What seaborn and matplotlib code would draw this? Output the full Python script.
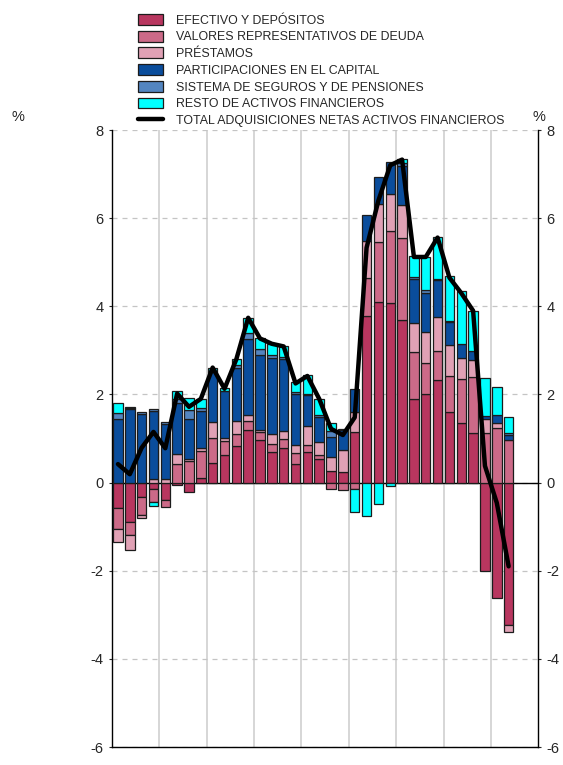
import numpy as np
import seaborn as sns
from matplotlib import pyplot as plt
from matplotlib.patches import Patch
from matplotlib.lines import Line2D

# quarterly data, 2015Q1 .. 2023Q2 (% )
years = ["2015", "2016", "2017", "2018", "2019", "2020", "2021", "2022", "2023"]

efectivo = [-0.57, -0.89, -0.32, -0.15, -0.39, -0.06, -0.21, 0.11,
            0.45, 0.62, 0.83, 1.19, 0.97, 0.70, 0.79, 0.42,
            0.70, 0.53, 0.26, 0.24, 1.15, 3.78, 4.10, 4.08,
            3.70, 1.90, 2.00, 2.33, 1.60, 1.36, 1.13, -2.00,
            -2.62, -3.23]
valores = [-0.49, -0.30, -0.42, -0.29, -0.17, 0.43, 0.49, 0.60,
           0.57, 0.33, 0.28, 0.20, 0.18, 0.17, 0.20, 0.25,
           0.16, 0.09, -0.14, -0.17, -0.14, 0.87, 1.35, 1.63,
           1.84, 1.07, 0.72, 0.66, 0.83, 1.00, 1.26, 1.13,
           1.25, 0.97]
prestamos = [-0.28, -0.33, -0.06, 0.09, 0.09, 0.21, 0.05, 0.08,
             0.36, 0.07, 0.29, 0.15, 0.05, 0.23, 0.17, 0.19,
             0.42, 0.30, 0.33, 0.51, 0.45, 0.83, 0.87, 0.85,
             0.75, 0.66, 0.70, 0.76, 0.70, 0.46, 0.40, 0.32,
             0.10, -0.17]
participaciones = [1.45, 1.66, 1.56, 1.53, 1.23, 1.17, 0.91, 0.83,
                   1.12, 1.07, 1.21, 1.72, 1.69, 1.72, 1.64, 1.15,
                   0.71, 0.57, 0.45, 0.45, 0.53, 0.60, 0.61, 0.71,
                   0.89, 0.98, 0.88, 0.85, 0.52, 0.32, 0.19, 0.06,
                   0.18, 0.10]
seguros = [0.14, 0.04, 0.05, 0.05, 0.06, 0.08, 0.20, 0.08,
           0.00, 0.00, 0.05, 0.14, 0.14, 0.08, 0.05, 0.04,
           0.02, 0.05, 0.13, 0.02, 0.00, 0.00, 0.00, 0.00,
           0.08, 0.05, 0.08, 0.03, 0.02, 0.00, 0.00, 0.00,
           0.00, 0.05]
resto = [0.21, 0.02, 0.00, -0.08, 0.00, 0.19, 0.28, 0.20,
         0.11, 0.05, 0.14, 0.34, 0.24, 0.25, 0.24, 0.23,
         0.43, 0.36, 0.19, 0.00, -0.52, -0.76, -0.48, -0.08,
         0.09, 0.48, 0.74, 0.95, 1.02, 1.21, 0.91, 0.87,
         0.63, 0.38]
total = [0.42, 0.19, 0.79, 1.15, 0.78, 2.02, 1.72, 1.90,
         2.61, 2.13, 2.80, 3.74, 3.27, 3.15, 3.09, 2.25,
         2.42, 1.90, 1.22, 1.08, 1.48, 5.33, 6.40, 7.20,
         7.33, 5.12, 5.12, 5.56, 4.65, 4.30, 3.90, 0.38,
         -0.46, -1.90]

names = ["EFECTIVO Y DEPÓSITOS", "VALORES REPRESENTATIVOS DE DEUDA", "PRÉSTAMOS",
         "PARTICIPACIONES EN EL CAPITAL", "SISTEMA DE SEGUROS Y DE PENSIONES",
         "RESTO DE ACTIVOS FINANCIEROS"]
colors = ["#b8365f", "#cc6a88", "#e0a1b5", "#0a4d9c", "#5385c0", "#00ffff"]
line_name = "TOTAL ADQUISICIONES NETAS ACTIVOS FINANCIEROS"

sns.set_style("white")
plt.rcParams['font.family'] = ['Liberation Sans', 'DejaVu Sans']
plt.rcParams['axes.unicode_minus'] = False

fig = plt.figure(figsize=(5.63, 7.65), dpi=100)
ax = fig.add_axes([0.199, 0.0235, 0.757, 0.8065])

q = np.arange(len(total))
pos_base = np.zeros(len(q))
neg_base = np.zeros(len(q))
edge = "#1c1c1c"
for vals, col in zip([efectivo, valores, prestamos, participaciones, seguros, resto], colors):
    v = np.array(vals, dtype=float)
    bottom = np.where(v >= 0, pos_base, neg_base)
    n0 = len(ax.patches)
    sns.barplot(x=q, y=v, bottom=bottom, color=col, saturation=1, width=0.8,
                errorbar=None, edgecolor=edge, linewidth=0.9, ax=ax, zorder=3)
    for p in ax.patches[n0:]:
        if p.get_height() == 0:
            p.set_visible(False)
    pos_base += np.clip(v, 0, None)
    neg_base += np.clip(v, None, 0)

sns.lineplot(x=q, y=total, color="black", linewidth=3.2, ax=ax, zorder=5)

ax.set_xlim(-0.5, 35.5)
ax.set_ylim(-6, 8)
ax.set_xlabel("")
ax.set_ylabel("")

# y grid
ax.set_yticks(range(-6, 9, 2))
ax.yaxis.grid(True, linestyle=(0, (4, 4)), color="#c4c4c4", linewidth=0.9)
ax.set_axisbelow(True)
ax.axhline(0, color="black", linewidth=1, zorder=2.5)

# year separators
for k in range(1, 9):
    ax.axvline(4 * k - 0.5, color="#cfcfcf", linewidth=1.2, zorder=0)

ax.set_xticks(np.arange(-0.5, 36, 1))
ax.set_xticklabels([""] * 37)
ax.set_xticks(np.arange(1.5, 36, 4), minor=True)
ax.set_xticklabels(years, minor=True)
ax.tick_params(axis="x", which="major", direction="in", length=3, width=0.8, color="black")
ax.tick_params(axis="x", which="minor", length=0, labelsize=11, pad=3)
ax.tick_params(axis="y", which="major", direction="out", length=2, width=0.8,
               left=True, right=True, labelleft=True, labelright=True, labelsize=10.5, pad=4)

ax.spines["top"].set_visible(False)
for s in ["left", "right", "bottom"]:
    ax.spines[s].set_color("black")
    ax.spines[s].set_linewidth(1)

fig.text(18 / 563, 1 - 117 / 765, "%", fontsize=10.5, ha="center", va="center")
fig.text(539 / 563, 1 - 117 / 765, "%", fontsize=10.5, ha="center", va="center")

handles = [Patch(facecolor=c, edgecolor=edge, linewidth=0.9) for c in colors]
handles.append(Line2D([0], [0], color="black", linewidth=3.2))
fig.legend(handles, names + [line_name], loc="upper left",
           bbox_to_anchor=(138 / 563, 1 - 14 / 765), frameon=False, fontsize=8.9,
           handlelength=2.0, handleheight=0.97, handletextpad=1.05, labelspacing=0.33,
           borderpad=0, borderaxespad=0)

fig.savefig("out.png", dpi=100)
